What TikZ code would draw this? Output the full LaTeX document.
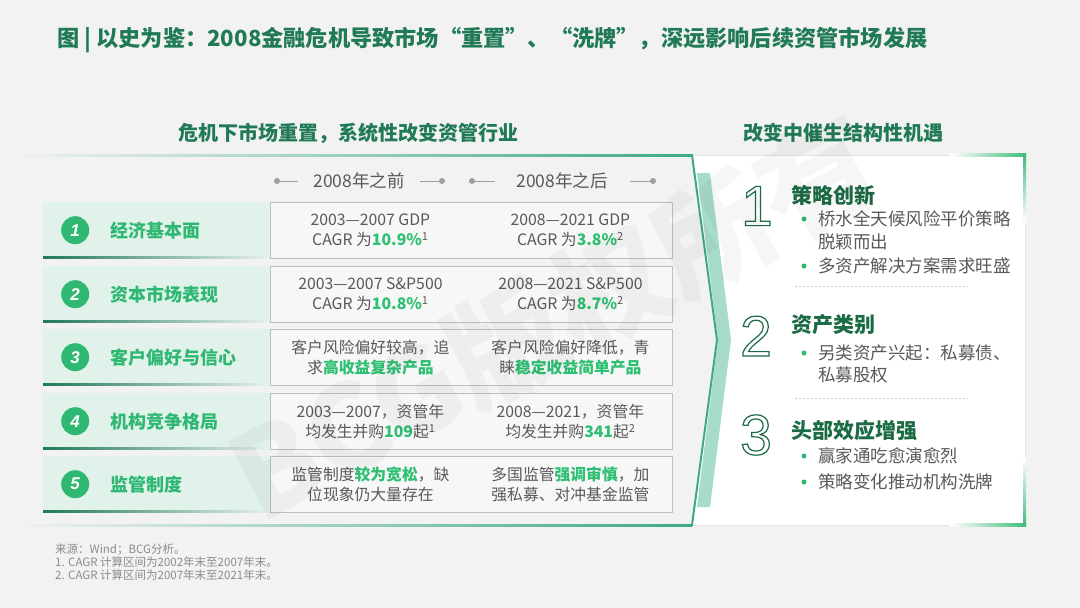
\documentclass[tikz,border=0pt]{standalone}
\usepackage{fontspec}
\setmainfont{Noto Sans CJK SC}
\newfontfamily\latinsf{Liberation Sans}
\usetikzlibrary{positioning,shapes,calc}

\definecolor{pagebg}{HTML}{F2F2F2}
\definecolor{titlegreen}{HTML}{217A56}
\definecolor{darkgreen}{HTML}{1B6B45}
\definecolor{leafgreen}{HTML}{2EB872}
\definecolor{hlgreen}{HTML}{2DBF72}
\definecolor{mint}{HTML}{E1F2EA}
\definecolor{tealline}{HTML}{3DAA85}
\definecolor{paleteal}{HTML}{A6DCC9}
\definecolor{accent}{HTML}{3DBB7A}
\definecolor{textgray}{HTML}{595959}
\definecolor{notegray}{HTML}{8C8C8C}
\definecolor{boxline}{HTML}{BFBFBF}
\definecolor{boxfill}{HTML}{F7F7F7}

\newcommand{\hl}[1]{{\bfseries\color{hlgreen}#1}}
\newcommand{\fn}[1]{\textsuperscript{#1}}
\newcommand{\hollow}[1]{\special{pdf:literal direct 1 Tr 1.2 w}#1\special{pdf:literal direct 0 Tr}}

\tikzstyle{every node}=[inner sep=0pt]

\begin{document}
\begin{tikzpicture}[x=1pt,y=-1pt,
    rowband/.style={fill=mint,minimum width=227pt,minimum height=56pt,anchor=north west},
    numdot/.style={circle,fill=leafgreen,minimum size=28pt,text=white,
      font=\latinsf\bfseries\itshape\fontsize{17}{17}\selectfont},
    rowlabel/.style={text=leafgreen,anchor=west,font=\bfseries\fontsize{18}{20}\selectfont},
    cellbox/.style={draw=boxline,fill=boxfill,line width=0.8pt,minimum width=402pt,
      minimum height=56pt,anchor=north west},
    celltext/.style={text=textgray,align=center,font=\fontsize{15.8}{20}\selectfont},
    yeartext/.style={text=textgray,font=\fontsize{17.5}{18}\selectfont},
    yeardot/.style={circle,fill=black!38,minimum size=6pt},
    yearline/.style={draw=black!38,line width=0.8pt},
    subhead/.style={text=titlegreen,font=\bfseries\fontsize{20}{22}\selectfont},
    bignum/.style={text=darkgreen,font=\latinsf\fontsize{57}{57}\selectfont},
    ophead/.style={text=darkgreen,anchor=west,font=\bfseries\fontsize{21}{24}\selectfont},
    opdot/.style={circle,fill=leafgreen,minimum size=5pt},
    optext/.style={text=textgray,anchor=west,font=\fontsize{17.5}{20}\selectfont},
    sepline/.style={draw=black!22,dash pattern=on 2pt off 2pt,line width=0.6pt},
    note/.style={text=notegray,align=left,font=\fontsize{11.5}{12.6}\selectfont}
]
\fill[pagebg] (0,0) rectangle (1080,608);
\useasboundingbox (0,0) rectangle (1080,608);

\node[anchor=west,text=titlegreen,font=\bfseries\fontsize{22.2}{26}\selectfont] (title) at (57,40)
  {图 | 以史为鉴：2008金融危机导致市场“重置”、“洗牌”，深远影响后续资管市场发展};

\node[subhead] (lefthead) at (348,133) {危机下市场重置，系统性改变资管行业};
\node[subhead] (righthead) at (843,133) {改变中催生结构性机遇};

% right panel
\fill[white] (692,155) rectangle (1025,525);
\draw[black!10,line width=0.8pt] (692,155) rectangle (1025,525);
\shade[left color=white,right color=accent] (950,153.8) rectangle (1026.2,156.4);
\shade[top color=accent,bottom color=white] (1023.6,153.8) rectangle (1026.2,222);
\shade[top color=white,bottom color=accent] (1023.6,458) rectangle (1026.2,526.2);
\shade[left color=white,right color=accent] (950,523.6) rectangle (1026.2,526.2);

\fill[paleteal] (697,173) -- (710,173) -- (731,340) -- (710,507) -- (697,507) -- (718,340) -- cycle;
\fill[pagebg] (600,155) -- (692,155) -- (717,340) -- (692,525) -- (600,525) -- cycle;
\shade[left color=pagebg,right color=tealline] (10,154) rectangle (692,156.2);
\shade[left color=pagebg,right color=tealline] (10,524) rectangle (692,526.2);
\draw[tealline,line width=2pt,line join=miter] (691,155) -- (692,155) -- (717,340) -- (692,525) -- (691,525);

% year header
\node[yeartext] (pre) at (359,181) {2008年之前};
\node[yeardot] (pre-l) at (277,181) {};
\node[yeardot] (pre-r) at (442,181) {};
\coordinate (pre-la) at (298,181);
\coordinate (pre-ra) at (420,181);
\draw[yearline] (pre-l) -- (pre-la);
\draw[yearline] (pre-ra) -- (pre-r);
\node[yeartext] (post) at (562,181) {2008年之后};
\node[yeardot] (post-l) at (472,181) {};
\node[yeardot] (post-r) at (653,181) {};
\coordinate (post-la) at (495,181);
\coordinate (post-ra) at (630,181);
\draw[yearline] (post-l) -- (post-la);
\draw[yearline] (post-ra) -- (post-r);

% rows
\node[rowband] (band1) at (43,202) {};
\node[rowband] (band2) at (43,266) {};
\node[rowband] (band3) at (43,329) {};
\node[rowband] (band4) at (43,393) {};
\node[rowband] (band5) at (43,456) {};
\foreach \r in {1,...,5}
  \shade[left color=titlegreen,right color=mint!60!pagebg] ($(band\r.south west)+(0,-2)$) rectangle (band\r.south east);

\node[numdot,right=18pt of band1.west] (n1) {1};
\node[numdot,right=18pt of band2.west] (n2) {2};
\node[numdot,right=18pt of band3.west] (n3) {3};
\node[numdot,right=18pt of band4.west] (n4) {4};
\node[numdot,right=18pt of band5.west] (n5) {5};
\node[rowlabel,right=21pt of n1] (l1) {经济基本面};
\node[rowlabel,right=21pt of n2] (l2) {资本市场表现};
\node[rowlabel,right=21pt of n3] (l3) {客户偏好与信心};
\node[rowlabel,right=21pt of n4] (l4) {机构竞争格局};
\node[rowlabel,right=21pt of n5] (l5) {监管制度};

\node[cellbox] (c1) at (270,202) {};
\node[cellbox] (c2) at (270,266) {};
\node[cellbox] (c3) at (270,329) {};
\node[cellbox] (c4) at (270,393) {};
\node[cellbox] (c5) at (270,456) {};

\node[celltext] (b1) at ($(c1.center)+(-101,0)$) {2003—2007 GDP\\CAGR 为\hl{10.9\%}\fn{1}};
\node[celltext] (a1) at ($(c1.center)+(99,0)$) {2008—2021 GDP\\CAGR 为\hl{3.8\%}\fn{2}};
\node[celltext] (b2) at ($(c2.center)+(-101,0)$) {2003—2007 S\&P500\\CAGR 为\hl{10.8\%}\fn{1}};
\node[celltext] (a2) at ($(c2.center)+(99,0)$) {2008—2021 S\&P500\\CAGR 为\hl{8.7\%}\fn{2}};
\node[celltext] (b3) at ($(c3.center)+(-101,0)$) {客户风险偏好较高，追\\求\hl{高收益复杂产品}};
\node[celltext] (a3) at ($(c3.center)+(99,0)$) {客户风险偏好降低，青\\睐\hl{稳定收益简单产品}};
\node[celltext] (b4) at ($(c4.center)+(-101,0)$) {2003—2007，资管年\\均发生并购\hl{109}起\fn{1}};
\node[celltext] (a4) at ($(c4.center)+(99,0)$) {2008—2021，资管年\\均发生并购\hl{341}起\fn{2}};
\node[celltext] (b5) at ($(c5.center)+(-101,0)$) {监管制度\hl{较为宽松}，缺\\位现象仍大量存在};
\node[celltext] (a5) at ($(c5.center)+(99,0)$) {多国监管\hl{强调审慎}，加\\强私募、对冲基金监管};

% opportunities
\node[bignum] (big1) at (757,206) {\hollow{1}};
\node[bignum] (big2) at (756,336) {\hollow{2}};
\node[bignum] (big3) at (756,435) {\hollow{3}};

\node[ophead] (h1) at (791,195) {策略创新};
\node[opdot] (d11) at (804,219) {};
\node[optext] (t11) at (818,219) {桥水全天候风险平价策略};
\node[optext] (t12) at (818,242) {脱颖而出};
\node[opdot] (d12) at (804,266) {};
\node[optext] (t13) at (818,266) {多资产解决方案需求旺盛};
\coordinate (s1a) at (795,286);
\coordinate (s1b) at (968,286);
\draw[sepline] (s1a) -- (s1b);

\node[ophead] (h2) at (791,325) {资产类别};
\node[opdot] (d21) at (804,353) {};
\node[optext] (t21) at (818,353) {另类资产兴起：私募债、};
\node[optext] (t22) at (818,375) {私募股权};
\coordinate (s2a) at (795,398);
\coordinate (s2b) at (968,398);
\draw[sepline] (s2a) -- (s2b);

\node[ophead] (h3) at (791,430) {头部效应增强};
\node[opdot] (d31) at (804,456) {};
\node[optext] (t31) at (818,456) {赢家通吃愈演愈烈};
\node[opdot] (d32) at (804,482) {};
\node[optext] (t32) at (818,482) {策略变化推动机构洗牌};

\node[note,anchor=north west] (src) at (55,544)
  {来源：Wind；BCG分析。\\1. CAGR 计算区间为2002年末至2007年末。\\2. CAGR 计算区间为2007年末至2021年末。};

\node[rotate=28,text=black,text opacity=0.035,font=\bfseries\fontsize{118}{120}\selectfont] (mark) at (555,318) {BCG版权所有};
\end{tikzpicture}
\end{document}
